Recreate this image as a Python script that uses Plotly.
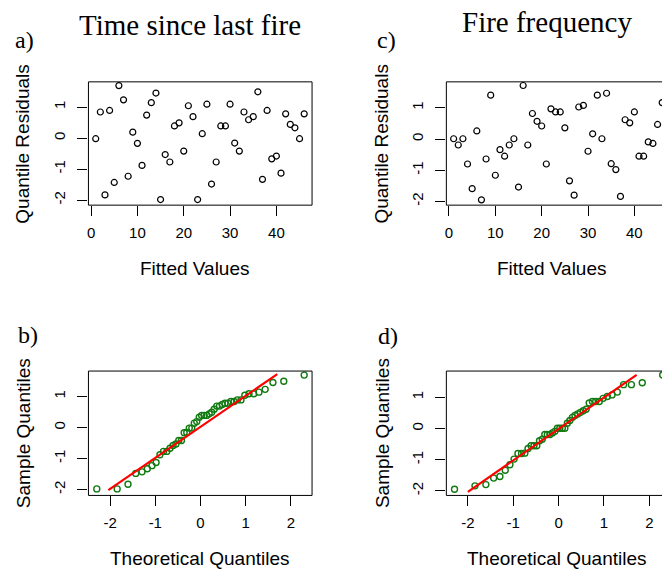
import plotly.graph_objects as go

# ---------------- data ----------------
fitted_a = [1, 2, 3, 4, 5, 6, 7, 8, 9, 10, 11, 12, 13, 14, 15, 16, 17, 18, 19, 20, 21, 22, 23,
            24, 25, 26, 27, 28, 29, 30, 31, 32, 33, 34, 35, 36, 37, 38, 39, 40, 41, 42, 43, 44, 45, 46]
resid_a = [-0.02, 0.84, -1.83, 0.89, -1.43, 1.69, 1.23, -1.23, 0.19, -0.17, -0.88, 0.74, 1.14, 1.45,
           -1.98, -0.53, -0.77, 0.39, 0.49, -0.42, 1.04, 0.69, -1.98, 0.14, 1.09, -1.48, -0.77, 0.39,
           0.39, 1.09, -0.16, -0.42, 0.84, 0.59, 0.69, 1.49, -1.33, 0.89, -0.67, -0.58, -1.13, 0.78,
           0.44, 0.33, -0.02, 0.78]

fitted_c = [1, 2, 3, 4, 5, 6, 7, 8, 9, 10, 11, 12, 13, 14, 15, 16, 17, 18, 19, 20, 21, 22, 23,
            24, 25, 26, 27, 28, 29, 30, 31, 32, 33, 34, 35, 36, 37, 38, 39, 40, 41, 42, 43, 44, 45, 46]
resid_c = [0.01, -0.19, 0.01, -0.80, -1.59, 0.26, -1.95, -0.64, 1.41, -1.16, -0.34, -0.55, -0.19,
           0.01, -1.54, 1.72, -0.19, 0.82, 0.57, 0.42, -0.80, 0.97, 0.87, 0.87, 0.36, -1.34, -1.80,
           1.03, 1.08, -0.39, 0.17, 1.41, 0.01, 1.47, -0.79, -0.98, -1.84, 0.62, 0.52, 0.87, -0.55,
           -0.55, -0.09, -0.14, 0.47, 1.17]

theoretical_q = [-2.295, -1.844, -1.604, -1.432, -1.294, -1.177, -1.074, -0.982, -0.897, -0.818,
                 -0.745, -0.674, -0.607, -0.543, -0.481, -0.421, -0.361, -0.304, -0.248, -0.192,
                 -0.137, -0.082, -0.027, 0.027, 0.082, 0.137, 0.192, 0.248, 0.304, 0.361, 0.421,
                 0.481, 0.543, 0.607, 0.674, 0.745, 0.818, 0.897, 0.982, 1.074, 1.177, 1.294,
                 1.432, 1.604, 1.844, 2.295]
sample_b = sorted(resid_a)
sample_d = sorted(resid_c)

qqline_b_x = [-2.04, 1.70]
qqline_b_y = [-2.02, 1.72]
qqline_d_x = [-2.00, 1.72]
qqline_d_y = [-2.03, 1.72]

fitted_ticks = [0, 10, 20, 30, 40]
fitted_ticktext = ["0", "10", "20", "30", "40"]
theo_ticks = [-2, -1, 0, 1, 2]
theo_ticktext = ["-2", "-1", "0", "1", "2"]
resid_ticks = [-2, -1, 0, 1]
resid_ticktext = ["-2", "-1", "0", "1"]

# ---------------- layout helpers ----------------
W, H = 662, 572


def px(x):
    return x / W


def py(y):
    return 1 - y / H


SANS = "Liberation Sans"
SERIF = "Liberation Serif"

boxes = {
    "a": dict(x=(86.7, 311.0), y=(82.0, 205.5)),
    "b": dict(x=(86.7, 311.0), y=(371.7, 496.3)),
    "c": dict(x=(445.7, 670.0), y=(82.0, 205.5)),
    "d": dict(x=(445.7, 670.0), y=(371.7, 496.3)),
}

fig = go.Figure()

open_black = dict(symbol="circle-open", size=6, color="black", line=dict(width=1.2, color="black"))
open_green = dict(symbol="circle-open", size=6, color="#117a11", line=dict(width=1.4, color="#117a11"))

fig.add_trace(go.Scatter(x=fitted_a, y=resid_a, mode="markers", marker=open_black,
                         xaxis="x", yaxis="y", showlegend=False))
fig.add_trace(go.Scatter(x=theoretical_q, y=sample_b, mode="markers", marker=open_green,
                         xaxis="x2", yaxis="y2", showlegend=False))
fig.add_trace(go.Scatter(x=qqline_b_x, y=qqline_b_y, mode="lines", line=dict(color="red", width=2.2),
                         xaxis="x2", yaxis="y2", showlegend=False))
fig.add_trace(go.Scatter(x=fitted_c, y=resid_c, mode="markers", marker=open_black,
                         xaxis="x3", yaxis="y3", showlegend=False))
fig.add_trace(go.Scatter(x=theoretical_q, y=sample_d, mode="markers", marker=open_green,
                         xaxis="x4", yaxis="y4", showlegend=False))
fig.add_trace(go.Scatter(x=qqline_d_x, y=qqline_d_y, mode="lines", line=dict(color="red", width=2.2),
                         xaxis="x4", yaxis="y4", showlegend=False))


def xax(box, rng, vals, text, anchor):
    x0, x1 = boxes[box]["x"]
    return dict(domain=[px(x0), min(1.0, px(x1))], range=rng, anchor=anchor,
                tickvals=vals, ticktext=text, ticks="outside", ticklen=10, tickwidth=1,
                tickcolor="black", showgrid=False, zeroline=False, showline=False,
                ticklabelstandoff=4,
                tickfont=dict(family=SANS, size=15, color="black"))


def yax(box, rng, anchor):
    y0, y1 = boxes[box]["y"]
    return dict(domain=[py(y1), py(y0)], range=rng, anchor=anchor,
                tickvals=resid_ticks, ticktext=resid_ticktext, ticks="outside", ticklen=10,
                tickwidth=1, tickcolor="black", showgrid=False, zeroline=False, showline=False,
                tickangle=-90, ticklabelstandoff=6,
                tickfont=dict(family=SANS, size=15, color="black"))


fig.update_layout(
    width=W, height=H, margin=dict(l=0, r=0, t=0, b=0),
    paper_bgcolor="white", plot_bgcolor="white",
    xaxis=xax("a", [-0.57, 47.7], fitted_ticks, fitted_ticktext, "y"),
    yaxis=yax("a", [-2.16, 1.81], "x"),
    xaxis2=xax("b", [-2.48, 2.47], theo_ticks, theo_ticktext, "y2"),
    yaxis2=yax("b", [-2.19, 1.82], "x2"),
    xaxis3=xax("c", [-0.57, 45.96], fitted_ticks, fitted_ticktext, "y3"),
    yaxis3=yax("c", [-2.12, 1.836], "x3"),
    xaxis4=xax("d", [-2.475, 2.279], theo_ticks, theo_ticktext, "y4"),
    yaxis4=yax("d", [-2.147, 1.846], "x4"),
)

# frames (R box) drawn as paper shapes so panels c/d run off the right edge
for k, b in boxes.items():
    fig.add_shape(type="rect", xref="paper", yref="paper",
                  x0=px(b["x"][0]), x1=px(b["x"][1]), y0=py(b["y"][1]), y1=py(b["y"][0]),
                  line=dict(color="black", width=1), fillcolor="rgba(0,0,0,0)", layer="above")


def note(text, x, y, size, family, angle=0):
    fig.add_annotation(text=text, x=px(x), y=py(y), xref="paper", yref="paper",
                       showarrow=False, xanchor="center", yanchor="middle", textangle=angle,
                       font=dict(family=family, size=size, color="black"))


note("Time since last fire", 188.5, 25, 29, SERIF)
note("Fire frequency", 547, 22, 29, SERIF)
note("a)", 23, 40, 24, SERIF)
note("c)", 386, 40, 24, SERIF)
note("b)", 26, 336, 24, SERIF)
note("d)", 387, 337, 24, SERIF)

note("Fitted Values", 193, 269, 19, SANS)
note("Fitted Values", 551, 269, 19, SANS)
note("Theoretical Quantiles", 199, 559, 19, SANS)
note("Theoretical Quantiles", 557, 559, 19, SANS)
note("Quantile Residuals", 21, 144, 19, SANS, -90)
note("Quantile Residuals", 381, 144, 19, SANS, -90)
note("Sample Quantiles", 21, 434, 19, SANS, -90)
note("Sample Quantiles", 381, 434, 19, SANS, -90)

fig.write_html("out.html")
